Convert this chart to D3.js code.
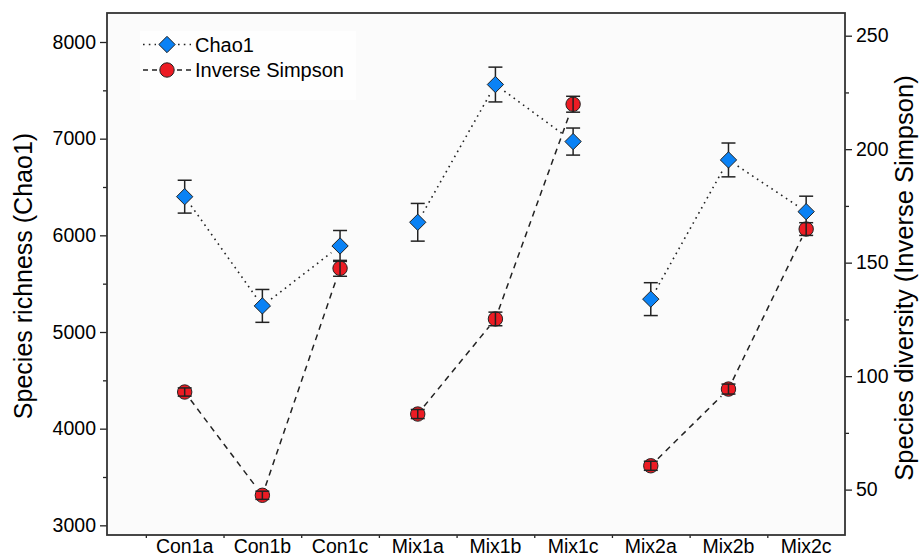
<!DOCTYPE html>
<html>
<head>
<meta charset="utf-8">
<script src="https://cdn.jsdelivr.net/npm/d3@7"></script>
<style>
  html, body { margin: 0; padding: 0; background: #fff; }
  svg { display: block; font-family: "Liberation Sans", Arial, sans-serif; }
</style>
</head>
<body>
<svg id="chart" width="920" height="558"></svg>
<script>
// Sample groups along the x axis
const categories = ["Con1a", "Con1b", "Con1c", "Mix1a", "Mix1b", "Mix1c", "Mix2a", "Mix2b", "Mix2c"];
// Treatment each sample belongs to; lines only join samples of one treatment
const treatments = ["Con1", "Con1", "Con1", "Mix1", "Mix1", "Mix1", "Mix2", "Mix2", "Mix2"];

// Chao1 richness estimate (left axis) with standard errors
const chao1 = [6400, 5270, 5890, 6135, 7560, 6970, 5340, 6780, 6245];
const chao1Err = [170, 170, 160, 195, 180, 140, 170, 175, 160];

// Inverse Simpson diversity (right axis) with standard errors
const invSimpson = [93, 47.5, 147.5, 83.3, 125.2, 219.8, 60.5, 94.3, 164.8];
const invSimpsonErr = [1.8, 1.8, 3.5, 2, 3, 3.5, 2, 2.2, 2.8];

// Axis ticks
const leftTicks = [3000, 4000, 5000, 6000, 7000, 8000];
const leftMinor = [3500, 4500, 5500, 6500, 7500];
const rightTicks = [50, 100, 150, 200, 250];
const rightMinor = [75, 125, 175, 225];

const legendLabels = ["Chao1", "Inverse Simpson"];

const svg = d3.select("#chart");
const plot = { left: 107, right: 845, top: 13, bottom: 535 };

const x = d3.scaleLinear().domain([0, categories.length + 0.5]).range([plot.left, plot.right]);
const yL = d3.scaleLinear().domain([2900, 8300]).range([plot.bottom, plot.top]);
const yR = d3.scaleLinear().domain([30, 260]).range([plot.bottom, plot.top]);

const blue = "#0a82f5";
const red = "#ec1c24";
const ink = "#222";

// Plot background
svg.append("rect")
  .attr("x", plot.left).attr("y", plot.top)
  .attr("width", plot.right - plot.left).attr("height", plot.bottom - plot.top)
  .attr("fill", "#fbfbfb");

// Legend backdrop
svg.append("rect")
  .attr("x", 140).attr("y", 31).attr("width", 216).attr("height", 69)
  .attr("fill", "#fefefe");

// Left axis
const leftAxis = d3.axisLeft(yL).tickValues(leftTicks).tickSize(7).tickPadding(4).tickFormat(d3.format("d"));
svg.append("g").attr("transform", `translate(${plot.left},0)`).call(leftAxis);
svg.append("g").attr("transform", `translate(${plot.left},0)`)
  .call(d3.axisLeft(yL).tickValues(leftMinor).tickSize(4).tickFormat(""));

// Right axis
const rightAxis = d3.axisRight(yR).tickValues(rightTicks).tickSize(7).tickPadding(4).tickFormat(d3.format("d"));
svg.append("g").attr("transform", `translate(${plot.right},0)`).call(rightAxis);
svg.append("g").attr("transform", `translate(${plot.right},0)`)
  .call(d3.axisRight(yR).tickValues(rightMinor).tickSize(4).tickFormat(""));

// Bottom axis: ticks sit between samples, labels at sample centres
const idx = categories.map((_, i) => i + 1);
svg.append("g").attr("transform", `translate(0,${plot.bottom})`)
  .call(d3.axisBottom(x).tickValues(idx.map(i => i - 0.5)).tickSize(3).tickFormat(""));
svg.append("g").attr("class", "xlabels")
  .selectAll("text").data(categories).join("text")
  .attr("x", (d, i) => x(i + 1))
  .attr("y", 553)
  .attr("text-anchor", "middle")
  .attr("font-size", 19.5)
  .attr("fill", "#000")
  .text(d => d);

svg.selectAll(".domain").remove();
svg.selectAll(".tick line").attr("stroke", ink).attr("stroke-width", 1.3);
svg.selectAll(".tick text").attr("font-size", 19.5).attr("fill", "#000")
  .attr("font-family", "'Liberation Sans', Arial, sans-serif");

// Frame
svg.append("rect")
  .attr("x", plot.left).attr("y", plot.top)
  .attr("width", plot.right - plot.left).attr("height", plot.bottom - plot.top)
  .attr("fill", "none").attr("stroke", "#333").attr("stroke-width", 1.8);

// Axis titles
svg.append("text")
  .attr("transform", `translate(32,276) rotate(-90)`)
  .attr("text-anchor", "middle")
  .attr("font-size", 25)
  .attr("fill", "#000")
  .text("Species richness (Chao1)");

svg.append("text")
  .attr("transform", `translate(913,278) rotate(-90)`)
  .attr("text-anchor", "middle")
  .attr("font-size", 25.5)
  .attr("fill", "#000")
  .text("Species diversity (Inverse Simpson)");

// Connecting lines within each treatment, trimmed short of each marker
function trimmedSegments(values, yScale, gap) {
  const pts = values.map((v, i) => [x(i + 1), yScale(v)]);
  const segs = [];
  for (let i = 0; i < pts.length - 1; i++) {
    if (treatments[i] !== treatments[i + 1]) continue;
    const [x0, y0] = pts[i], [x1, y1] = pts[i + 1];
    const len = Math.hypot(x1 - x0, y1 - y0);
    const ux = (x1 - x0) / len, uy = (y1 - y0) / len;
    segs.push([[x0 + ux * gap, y0 + uy * gap], [x1 - ux * gap, y1 - uy * gap]]);
  }
  return segs;
}
const line = d3.line();

svg.append("g").selectAll("path").data(trimmedSegments(chao1, yL, 11)).join("path")
  .attr("d", line).attr("fill", "none").attr("stroke", ink)
  .attr("stroke-width", 1.6).attr("stroke-dasharray", "1.6,4.2");

svg.append("g").selectAll("path").data(trimmedSegments(invSimpson, yR, 10)).join("path")
  .attr("d", line).attr("fill", "none").attr("stroke", ink)
  .attr("stroke-width", 1.5).attr("stroke-dasharray", "6,5");

function errorBars(g, values, errs, yScale) {
  const cap = 7;
  const grp = g.append("g").attr("stroke", ink).attr("stroke-width", 1.5);
  values.forEach((v, i) => {
    const cx = x(i + 1), top = yScale(v + errs[i]), bot = yScale(v - errs[i]);
    grp.append("line").attr("x1", cx).attr("x2", cx).attr("y1", top).attr("y2", bot);
    grp.append("line").attr("x1", cx - cap).attr("x2", cx + cap).attr("y1", top).attr("y2", top);
    grp.append("line").attr("x1", cx - cap).attr("x2", cx + cap).attr("y1", bot).attr("y2", bot);
  });
}

const diamond = d3.symbol().type(d3.symbolDiamond2).size(170);

// Chao1: error bars behind diamonds
errorBars(svg, chao1, chao1Err, yL);
svg.append("g").selectAll("path").data(chao1).join("path")
  .attr("transform", (d, i) => `translate(${x(i + 1)},${yL(d)})`)
  .attr("d", diamond)
  .attr("fill", blue).attr("stroke", ink).attr("stroke-width", 1);

// Inverse Simpson: circles with error bars drawn over them
svg.append("g").selectAll("circle").data(invSimpson).join("circle")
  .attr("cx", (d, i) => x(i + 1)).attr("cy", d => yR(d)).attr("r", 7.2)
  .attr("fill", red).attr("stroke", ink).attr("stroke-width", 1);
errorBars(svg, invSimpson, invSimpsonErr, yR);

// Legend
const lg = svg.append("g");
const rows = [44.5, 70];
lg.append("path").attr("d", `M143,${rows[0]}H156M178,${rows[0]}H191`)
  .attr("stroke", ink).attr("stroke-width", 1.6).attr("stroke-dasharray", "1.6,4.2").attr("fill", "none");
lg.append("path").attr("transform", `translate(167,${rows[0]})`).attr("d", diamond)
  .attr("fill", blue).attr("stroke", ink).attr("stroke-width", 1);
lg.append("path").attr("d", `M143,${rows[1]}H157M177,${rows[1]}H191`)
  .attr("stroke", ink).attr("stroke-width", 1.5).attr("stroke-dasharray", "5,4").attr("fill", "none");
lg.append("circle").attr("cx", 167).attr("cy", rows[1]).attr("r", 7.2)
  .attr("fill", red).attr("stroke", ink).attr("stroke-width", 1);
lg.selectAll("text").data(legendLabels).join("text")
  .attr("x", 195).attr("y", (d, i) => rows[i] + 7)
  .attr("font-size", 20).attr("fill", "#000")
  .text(d => d);
</script>
</body>
</html>
